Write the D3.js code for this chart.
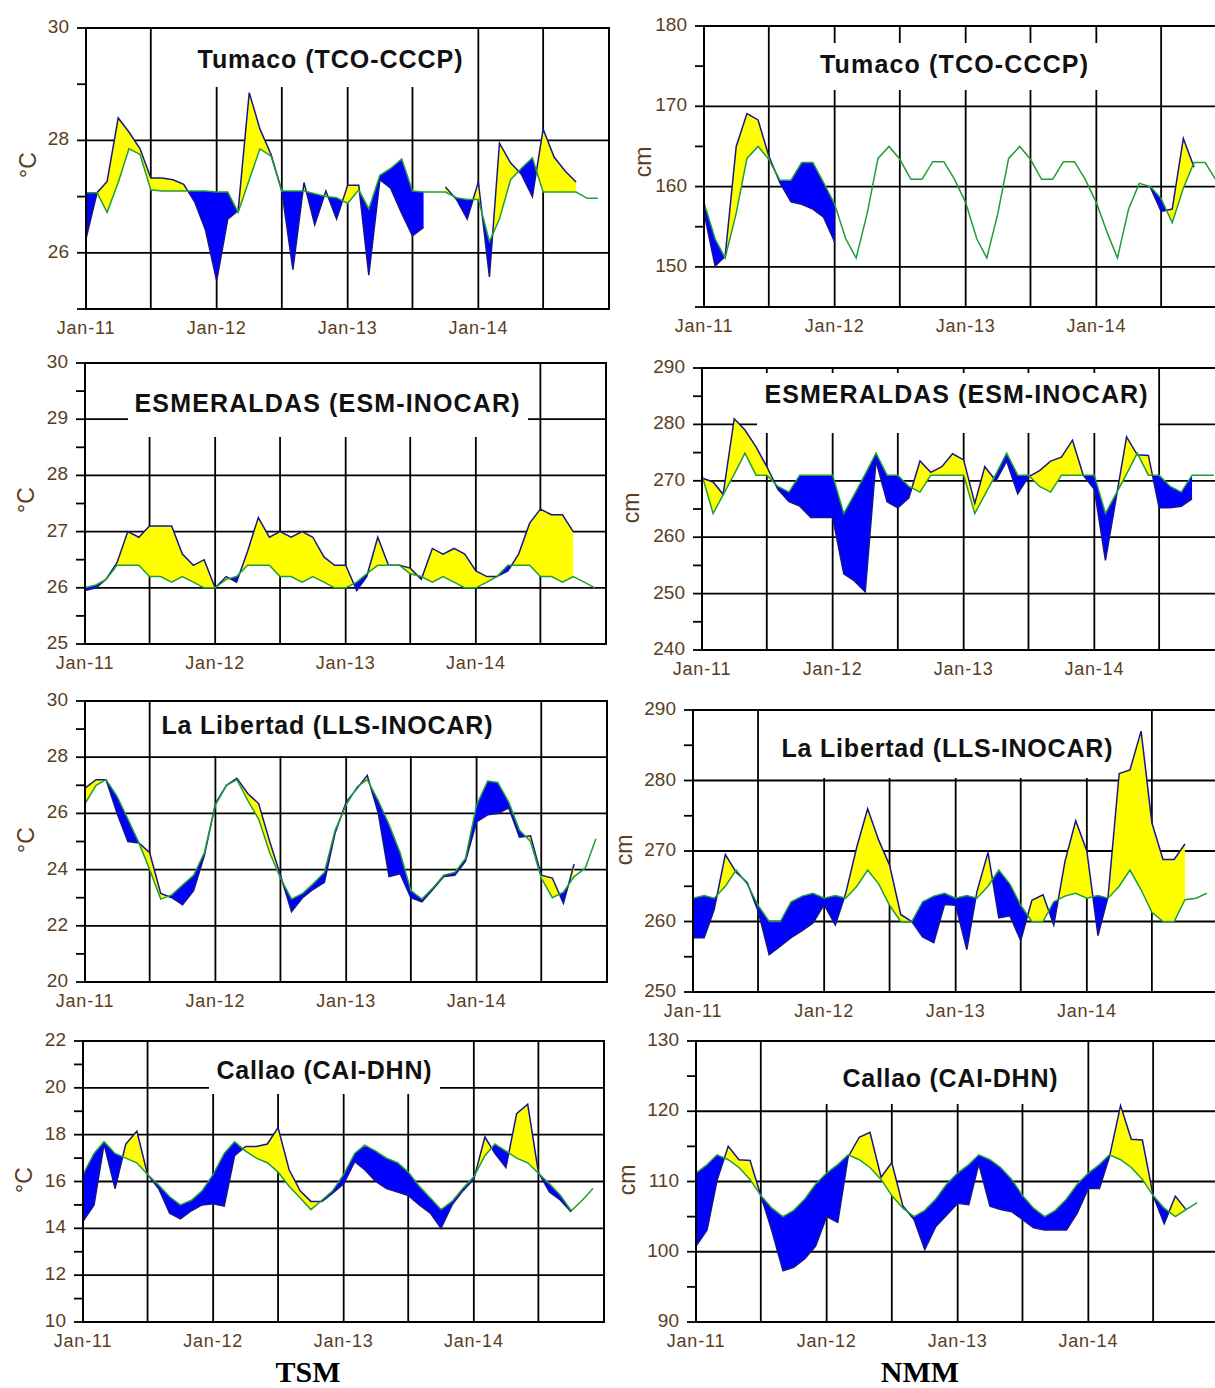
<!DOCTYPE html>
<html><head><meta charset="utf-8">
<script src="https://cdn.jsdelivr.net/npm/d3@7"></script>
<style>body{margin:0;background:#fff;} svg{display:block;}</style>
</head><body>
<svg id="chart" width="1215" height="1388"></svg>
<script>
// ---------- categories ----------
const months = [
 "2011-01","2011-02","2011-03","2011-04","2011-05","2011-06","2011-07","2011-08","2011-09","2011-10","2011-11","2011-12",
 "2012-01","2012-02","2012-03","2012-04","2012-05","2012-06","2012-07","2012-08","2012-09","2012-10","2012-11","2012-12",
 "2013-01","2013-02","2013-03","2013-04","2013-05","2013-06","2013-07","2013-08","2013-09","2013-10","2013-11","2013-12",
 "2014-01","2014-02","2014-03","2014-04","2014-05","2014-06","2014-07","2014-08","2014-09","2014-10","2014-11","2014-12"];
const xTickLabels = ["Jan-11","Jan-12","Jan-13","Jan-14"];
const xTickDates = ["2011-01","2012-01","2013-01","2014-01"];

// ---------- series: observed (obs) and climatology (clim) ----------
const tumacoTsmObs = [26.25,27.07,27.27,28.4,28.15,27.85,27.33,27.33,27.3,27.22,26.9,26.4,
 25.5,26.6,26.75,28.85,28.2,27.75,27.1,25.7,27.25,26.5,27.1,26.6,
 27.2,27.2,25.6,27.3,27.15,26.7,26.3,26.45,null,27.17,26.95,26.6,
 27.26,25.57,27.95,27.6,27.4,27.0,28.2,27.7,27.45,27.26,null,null];
const tumacoTsmClim = [27.07,27.07,26.72,27.25,27.85,27.75,27.12,27.1,27.1,27.1,27.1,27.1,
 27.08,27.08,26.72,27.3,27.85,27.72,27.1,27.1,27.1,27.05,27.0,26.98,
 26.88,27.12,26.78,27.38,27.5,27.67,27.1,27.08,27.08,27.08,26.98,26.95,
 26.95,26.2,26.6,27.3,27.5,27.69,27.08,27.08,27.08,27.08,26.97,26.97];

const tumacoNmmObs = [156.8,150.1,151.3,165.0,169.1,168.3,163.8,160.5,158.1,157.8,157.2,156.2,
 153.1,null,null,null,null,null,null,null,null,null,null,null,
 null,null,null,null,null,null,null,null,null,null,null,null,
 null,null,null,null,null,159.9,156.9,157.2,166.0,162.4,null,null];
const tumacoNmmClim = [158.0,153.5,151.1,156.7,163.5,165.0,163.4,160.8,160.8,163.0,163.0,160.5,
 157.8,153.5,151.1,156.7,163.5,165.0,163.4,160.9,160.9,163.1,163.1,160.9,
 158.0,153.5,151.1,156.7,163.5,165.0,163.4,160.9,160.9,163.1,163.1,160.9,
 158.0,154.2,151.1,157.2,160.4,160.0,158.5,155.5,159.8,163.0,163.0,160.8];

const esmTsmObs = [25.95,26.0,26.15,26.45,27.0,26.9,27.1,27.1,27.1,26.6,26.4,26.5,
 26.0,26.2,26.1,26.65,27.25,26.9,27.0,26.9,27.0,26.9,26.55,26.4,
 26.4,25.95,26.2,26.9,26.4,26.4,26.35,26.15,26.7,26.6,26.7,26.6,
 26.3,26.2,26.2,26.3,26.6,27.15,27.4,27.3,27.3,27.0,null,null];
const esmTsmClim = [26.0,26.05,26.15,26.4,26.4,26.4,26.2,26.2,26.1,26.2,26.1,26.0,
 26.0,26.15,26.2,26.4,26.4,26.4,26.2,26.2,26.1,26.2,26.1,26.0,
 26.0,26.1,26.25,26.4,26.4,26.4,26.25,26.2,26.1,26.2,26.1,26.0,
 26.0,26.1,26.2,26.4,26.4,26.4,26.2,26.2,26.1,26.2,26.1,26.0];

const esmNmmObs = [270.5,269.8,267.6,281.0,279.0,276.0,272.5,268.5,266.3,265.5,263.5,263.5,
 263.5,253.5,252.3,250.3,273.5,266.3,265.2,267.0,273.5,271.5,272.5,274.8,
 273.7,266.0,272.5,270.0,273.5,267.7,270.7,271.8,273.5,274.2,277.2,271.0,
 268.5,255.9,266.2,277.8,274.6,274.5,265.2,265.2,265.5,266.8,null,null];
const esmNmmClim = [271.0,264.2,267.5,271.2,274.9,271.0,271.0,269.0,268.0,271.0,271.0,271.0,
 271.0,264.2,267.5,271.2,274.9,271.0,271.0,269.0,268.0,271.0,271.0,271.0,
 271.0,264.2,267.5,271.2,274.9,271.0,271.0,269.0,268.0,271.0,271.0,271.0,
 271.0,264.2,267.5,271.2,274.9,271.0,271.0,269.0,268.0,271.0,271.0,271.0];

const llsTsmObs = [26.9,27.2,27.2,26.0,25.0,24.95,24.6,23.15,23.0,22.75,23.25,24.5,
 26.35,27.0,27.25,26.7,26.35,25.0,23.8,22.5,23.0,23.3,23.55,25.3,
 26.4,26.9,27.35,26.0,23.75,23.85,23.0,22.85,23.3,23.75,23.8,24.3,
 25.7,25.95,26.0,26.2,25.15,25.2,23.8,23.7,22.8,24.2,null,null];
const llsTsmClim = [26.35,27.0,27.2,26.6,25.8,24.95,24.0,22.95,23.1,23.45,23.8,24.6,
 26.3,27.0,27.2,26.45,25.8,24.6,23.7,22.95,23.15,23.5,23.9,25.4,
 26.3,26.95,27.2,26.45,25.6,24.6,23.25,22.95,23.35,23.8,23.9,24.4,
 26.3,27.15,27.1,26.4,25.4,25.0,23.7,23.0,23.2,23.75,24.05,25.1];

const llsNmmObs = [257.7,257.7,261.7,269.5,267.0,265.5,261.5,255.3,256.5,257.7,258.7,259.8,
 262.4,259.5,264.0,270.6,276.0,271.5,268.0,261.0,260.0,257.8,257.0,262.4,
 262.3,256.0,264.2,269.8,260.5,260.8,257.3,263.0,263.8,259.5,268.5,274.3,
 270.0,258.0,263.5,281.0,281.5,287.0,274.0,268.8,268.8,271.0,null,null];
const llsNmmClim = [263.3,263.7,263.3,265.0,267.3,265.3,262.3,260.0,260.0,262.8,263.6,264.0,
 263.3,263.7,263.3,265.0,267.3,265.3,262.3,260.0,260.0,262.8,263.6,264.0,
 263.3,263.7,263.3,265.0,267.3,265.3,262.3,260.0,260.0,262.8,263.6,264.0,
 263.3,263.7,263.3,265.0,267.3,264.5,261.3,260.0,260.0,263.1,263.3,264.0];

const caiTsmObs = [14.3,15.0,17.6,15.7,17.6,18.15,16.3,15.7,14.65,14.4,14.75,15.0,
 15.05,14.95,17.1,17.5,17.5,17.6,18.3,16.5,15.6,15.15,15.15,15.5,
 15.9,16.85,16.5,16.0,15.7,15.55,15.4,15.0,14.65,14.0,15.0,15.6,
 16.1,17.9,17.2,16.6,18.9,19.3,16.4,15.55,15.2,14.7,null,null];
const caiTsmClim = [16.3,17.2,17.7,17.2,17.0,16.8,16.3,15.85,15.35,15.0,15.2,15.6,
 16.3,17.2,17.7,17.3,17.0,16.8,16.4,15.8,15.3,14.8,15.2,15.6,
 16.3,17.2,17.55,17.3,17.0,16.8,16.4,15.8,15.3,14.8,15.15,15.7,
 16.2,17.1,17.6,17.3,17.0,16.8,16.35,15.9,15.4,14.75,15.2,15.7];

const caiNmmObs = [100.8,103.1,110.2,115.0,113.1,113.0,108.0,103.0,97.3,97.8,99.0,100.8,
 105.0,104.2,113.5,116.3,117.0,110.6,112.7,106.5,104.6,100.3,103.6,105.2,
 106.9,106.7,112.5,106.5,106.0,105.7,104.6,103.4,103.1,103.1,103.1,105.5,
 109.0,109.0,113.5,120.8,116.0,115.9,108.0,104.0,107.9,106.0,null,null];
const caiNmmClim = [111.2,112.4,113.8,113.1,112.0,110.3,108.0,106.2,105.0,105.9,107.5,109.6,
 111.2,112.4,113.8,113.1,112.0,110.3,108.0,106.2,105.0,105.9,107.5,109.6,
 111.2,112.4,113.8,113.1,112.0,110.3,108.0,106.2,105.0,105.9,107.5,109.6,
 111.2,112.4,113.8,113.1,112.0,110.3,108.0,106.2,105.0,106.0,107.0,null];

// ---------- y tick labels ----------
const tumacoTsmTicks = [26,28,30];
const esmTsmTicks = [25,26,27,28,29,30];
const llsTsmTicks = [20,22,24,26,28,30];
const caiTsmTicks = [10,12,14,16,18,20,22];
const tumacoNmmTicks = [150,160,170,180];
const esmNmmTicks = [240,250,260,270,280,290];
const llsNmmTicks = [250,260,270,280,290];
const caiNmmTicks = [90,100,110,120,130];

// ---------- layout ----------
const panels = [
 {title:"Tumaco (TCO-CCCP)", obs:tumacoTsmObs, clim:tumacoTsmClim, ticks:tumacoTsmTicks, dom:[25,30], minor:1, unit:"°C",
  L:86,R:609,T:28,B:309, tx:330,ty:61,tw:265, box:[160,29,472,87], ux:30,uy:165},
 {title:"ESMERALDAS (ESM-INOCAR)", obs:esmTsmObs, clim:esmTsmClim, ticks:esmTsmTicks, dom:[25,30], minor:0.5, unit:"°C",
  L:85,R:606,T:363,B:644, tx:327,ty:405,tw:385, box:[128,363,528,437], ux:28,uy:500},
 {title:"La Libertad (LLS-INOCAR)", obs:llsTsmObs, clim:llsTsmClim, ticks:llsTsmTicks, dom:[20,30], minor:1, unit:"°C",
  L:85,R:607,T:701,B:982, tx:327,ty:727,tw:331, box:[156,701,500,756], ux:28,uy:840},
 {title:"Callao (CAI-DHN)", obs:caiTsmObs, clim:caiTsmClim, ticks:caiTsmTicks, dom:[10,22], minor:1, unit:"°C",
  L:83,R:604,T:1041,B:1322, tx:324,ty:1072,tw:215, box:[209,1041,440,1094], ux:26,uy:1180},
 {title:"Tumaco (TCO-CCCP)", obs:tumacoNmmObs, clim:tumacoNmmClim, ticks:tumacoNmmTicks, dom:[145,180], minor:5, unit:"cm",
  L:704,R:1227,T:26,B:307, tx:954,ty:66,tw:268, box:[815,43,1100,90], ux:645,uy:162},
 {title:"ESMERALDAS (ESM-INOCAR)", obs:esmNmmObs, clim:esmNmmClim, ticks:esmNmmTicks, dom:[240,290], minor:5, unit:"cm",
  L:702,R:1225,T:368,B:650, tx:956,ty:396,tw:383, box:[757,373,1158,433], ux:633,uy:508},
 {title:"La Libertad (LLS-INOCAR)", obs:llsNmmObs, clim:llsNmmClim, ticks:llsNmmTicks, dom:[250,290], minor:5, unit:"cm",
  L:693,R:1218,T:710,B:992, tx:947,ty:750,tw:331, box:[765,711,1140,778], ux:626,uy:850},
 {title:"Callao (CAI-DHN)", obs:caiNmmObs, clim:caiNmmClim, ticks:caiNmmTicks, dom:[90,130], minor:5, unit:"cm",
  L:696,R:1219,T:1041,B:1322, tx:950,ty:1080,tw:215, box:[765,1042,1080,1104], ux:629,uy:1180}
];

const parse = d3.timeParse("%Y-%m");
const dates = months.map(parse);
const svg = d3.select("#chart");
const FONT = "'Liberation Sans', Arial, sans-serif";
const TICKCOL = "#5a3d1e";

panels.forEach((p, k) => {
  const x = d3.scaleTime().domain([new Date(2011,0,1), new Date(2015,0,1)]).range([p.L, p.R]);
  const y = d3.scaleLinear().domain(p.dom).range([p.B, p.T]);
  const g = svg.append("g");
  const rows = dates.map((d,i) => ({d, o:p.obs[i], c:p.clim[i]}));

  // gridlines
  const vLines = x.ticks(d3.timeMonth.every(6));
  g.selectAll(".vg").data(vLines).join("line")
    .attr("x1", d=>x(d)).attr("x2", d=>x(d)).attr("y1", p.T).attr("y2", p.B)
    .attr("stroke","#000").attr("stroke-width",1.8);
  const hLines = p.ticks.filter(v => v > p.dom[0] && v < p.dom[1]);
  g.selectAll(".hg").data(hLines).join("line")
    .attr("x1", p.L).attr("x2", p.R).attr("y1", d=>y(d)).attr("y2", d=>y(d))
    .attr("stroke","#000").attr("stroke-width",1.8);

  // title box
  g.append("rect").attr("x",p.box[0]).attr("y",p.box[1]).attr("width",p.box[2]-p.box[0]).attr("height",p.box[3]-p.box[1]).attr("fill","#fff");

  // clip paths above / below climatology
  const defs = svg.append("defs");
  const aboveArea = d3.area().defined(r=>r.c!=null).x(r=>x(r.d)).y0(p.T-5).y1(r=>y(r.c));
  const belowArea = d3.area().defined(r=>r.c!=null).x(r=>x(r.d)).y0(r=>y(r.c)).y1(p.B+5);
  defs.append("clipPath").attr("id","ab"+k).append("path").attr("d", aboveArea(rows));
  defs.append("clipPath").attr("id","be"+k).append("path").attr("d", belowArea(rows));

  const band = d3.area().defined(r=>r.o!=null && r.c!=null).x(r=>x(r.d)).y0(r=>y(r.c)).y1(r=>y(r.o));
  g.append("path").attr("d", band(rows)).attr("fill","#ffff00").attr("clip-path","url(#ab"+k+")");
  g.append("path").attr("d", band(rows)).attr("fill","#0000ff").attr("clip-path","url(#be"+k+")");

  // lines
  const climLine = d3.line().defined(r=>r.c!=null).x(r=>x(r.d)).y(r=>y(r.c));
  const obsLine = d3.line().defined(r=>r.o!=null).x(r=>x(r.d)).y(r=>y(r.o));
  g.append("path").attr("d", obsLine(rows)).attr("fill","none").attr("stroke","#16168a").attr("stroke-width",1.5);
  g.append("path").attr("d", climLine(rows)).attr("fill","none").attr("stroke","#1f9e35").attr("stroke-width",1.5);

  // frame
  g.append("rect").attr("x",p.L).attr("y",p.T).attr("width",p.R-p.L).attr("height",p.B-p.T)
    .attr("fill","none").attr("stroke","#000").attr("stroke-width",2);

  // y ticks (major + minor)
  const allTicks = d3.range(p.dom[0], p.dom[1] + p.minor/2, p.minor);
  g.selectAll(".yt").data(allTicks).join("line")
    .attr("x1", p.L-9).attr("x2", p.L).attr("y1", d=>y(d)).attr("y2", d=>y(d))
    .attr("stroke","#000").attr("stroke-width",1.8);
  g.selectAll(".yl").data(p.ticks).join("text")
    .attr("x", p.L-17).attr("y", d=>y(d)).attr("text-anchor","end").attr("dominant-baseline","middle")
    .attr("font-family",FONT).attr("font-size",19).attr("fill",TICKCOL).text(d=>d);

  // x tick labels
  g.selectAll(".xl").data(xTickDates).join("text")
    .attr("x", (d)=>x(parse(d))).attr("y", p.B+20).attr("text-anchor","middle").attr("dominant-baseline","middle")
    .attr("font-family",FONT).attr("font-size",18).attr("letter-spacing",0.8).attr("fill",TICKCOL)
    .text((d,i)=>xTickLabels[i]);

  // unit label
  g.append("text").attr("transform",`translate(${p.ux},${p.uy}) rotate(-90)`)
    .attr("text-anchor","middle").attr("dominant-baseline","middle")
    .attr("font-family",FONT).attr("font-size",23).attr("fill",TICKCOL).text(p.unit);

  // title
  g.append("text").attr("x",p.tx).attr("y",p.ty).attr("text-anchor","middle").attr("dominant-baseline","middle")
    .attr("font-family",FONT).attr("font-weight","bold").attr("font-size",25).attr("fill","#111")
    .attr("textLength",p.tw).attr("lengthAdjust","spacing").text(p.title);
});

svg.append("text").attr("x",308).attr("y",1375).attr("text-anchor","middle").attr("dominant-baseline","middle")
  .attr("font-family","'Liberation Serif','Times New Roman',serif").attr("font-weight","bold").attr("font-size",30).text("TSM");
svg.append("text").attr("x",920).attr("y",1375).attr("text-anchor","middle").attr("dominant-baseline","middle")
  .attr("font-family","'Liberation Serif','Times New Roman',serif").attr("font-weight","bold").attr("font-size",30).text("NMM");
</script>
</body></html>
